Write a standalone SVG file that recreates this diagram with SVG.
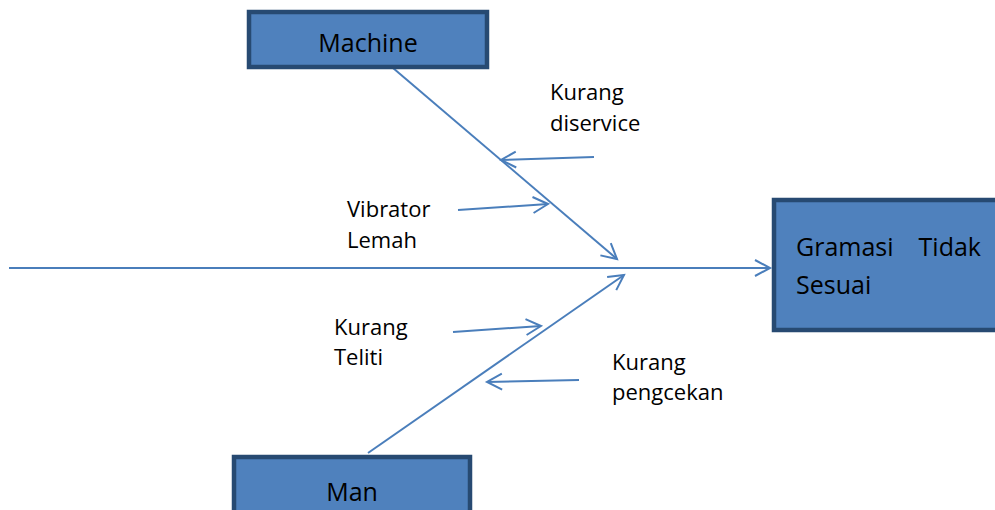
<svg xmlns="http://www.w3.org/2000/svg" width="995" height="510" viewBox="0 0 995 510">
  <style>
    .box { fill: #4f81bd; stroke: #274a72; stroke-width: 4.5; }
    .bone { fill: none; stroke: #4a7ebb; stroke-width: 2; marker-end: url(#open); }
    .head { font-family: "Open Sans", "Liberation Sans", sans-serif; font-size: 25px; fill: #000; }
    .lbl { font-family: "Open Sans", "Liberation Sans", sans-serif; font-size: 22px; fill: #000; }
  </style>
  <defs>
    <marker id="open" markerUnits="userSpaceOnUse" markerWidth="24" markerHeight="24" viewBox="-18 -12 24 24" refX="0" refY="0" orient="auto">
      <path d="M-15,-8 L0,0 L-15,8" fill="none" stroke="#4a7ebb" stroke-width="2"/>
    </marker>
  </defs>
  <rect width="995" height="510" fill="#ffffff"/>

  <g id="connectors">
    <!-- spine -->
    <path class="bone" d="M9,268 L770,268"/>
    <!-- main bones -->
    <path class="bone" d="M393,68 L617,259"/>
    <path class="bone" d="M368,453 L624,275"/>
    <!-- cause arrows -->
    <path class="bone" d="M594,157 L501,160"/>
    <path class="bone" d="M458,210 L548,204"/>
    <path class="bone" d="M453,332 L541,326"/>
    <path class="bone" d="M579,380 L487,382"/>
  </g>

  <g id="machine">
    <rect class="box" x="249" y="12" width="238" height="55"/>
    <text class="head" x="368" y="52" text-anchor="middle">Machine</text>
  </g>

  <g id="man">
    <rect class="box" x="234" y="457" width="236" height="60"/>
    <text class="head" x="352" y="501" text-anchor="middle">Man</text>
  </g>

  <g id="effect">
    <rect class="box" x="774" y="200" width="226" height="130"/>
    <text class="head" x="796" y="256" font-size="24">Gramasi</text>
    <text class="head" x="981" y="256" font-size="24" text-anchor="end">Tidak</text>
    <text class="head" x="796" y="294" font-size="24">Sesuai</text>
  </g>

  <g id="kurang-diservice">
    <text class="lbl" x="550" y="100">Kurang</text>
    <text class="lbl" x="550" y="131">diservice</text>
  </g>

  <g id="vibrator-lemah">
    <text class="lbl" x="347" y="217">Vibrator</text>
    <text class="lbl" x="347" y="248">Lemah</text>
  </g>

  <g id="kurang-teliti">
    <text class="lbl" x="334" y="335">Kurang</text>
    <text class="lbl" x="334" y="365">Teliti</text>
  </g>

  <g id="kurang-pengcekan">
    <text class="lbl" x="612" y="370">Kurang</text>
    <text class="lbl" x="612" y="400">pengcekan</text>
  </g>
</svg>
